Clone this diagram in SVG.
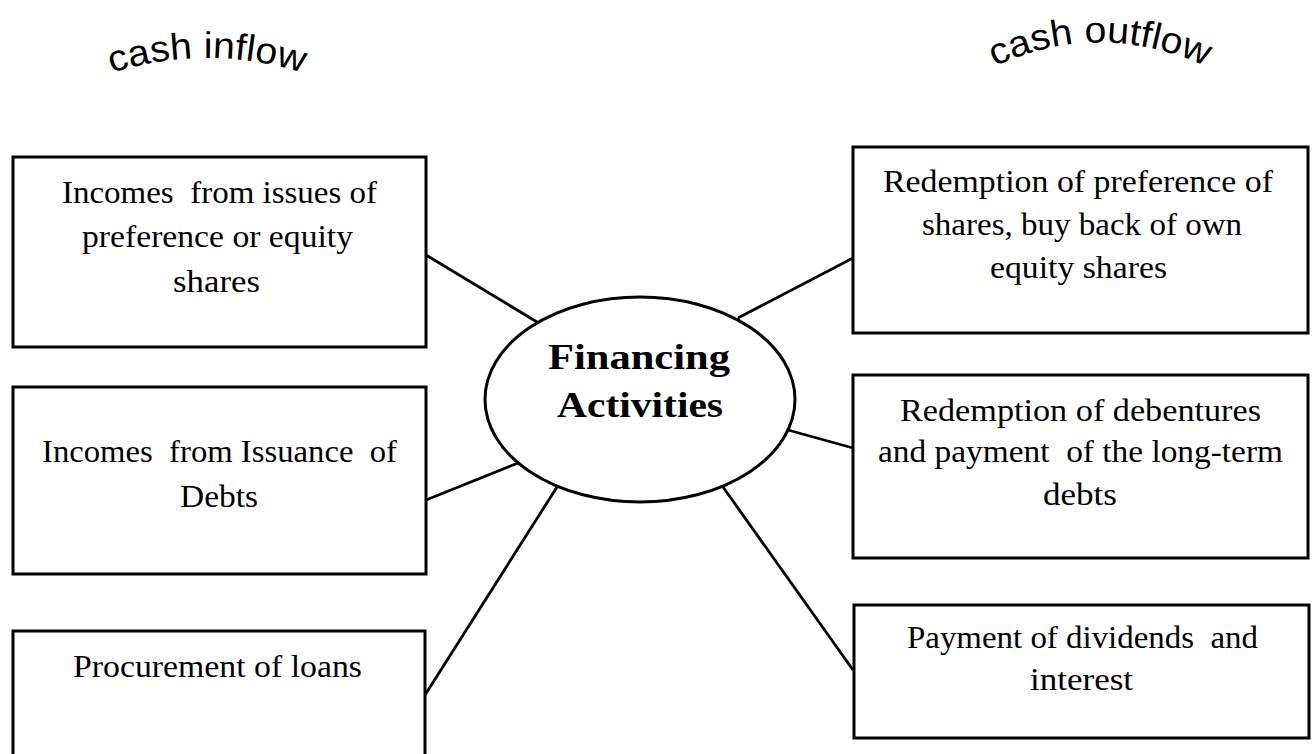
<svg xmlns="http://www.w3.org/2000/svg" width="1314" height="754" viewBox="0 0 1314 754">
<defs>
<style>
.box{fill:#fff;stroke:#000;stroke-width:3}
.conn line{stroke:#000;stroke-width:2.8}
.t{font-family:"Liberation Serif","Times New Roman",serif;font-size:32px;fill:#000;text-anchor:middle}
.b{font-family:"Liberation Serif","Times New Roman",serif;font-size:36px;font-weight:bold;fill:#000;text-anchor:middle}
.h{font-family:"Liberation Sans",Arial,sans-serif;font-size:37px;fill:#000;text-anchor:middle}
</style>
<path id="arcIn" d="M108,74 Q207,42 306,74"/>
<path id="arcOut" d="M993,67 Q1100,18 1207,67"/>
</defs>
<rect width="1314" height="754" fill="#fff"/>
<g id="headers">
<text class="h"><textPath href="#arcIn" startOffset="50%" textLength="194" lengthAdjust="spacingAndGlyphs">cash inflow</textPath></text>
<text class="h"><textPath href="#arcOut" startOffset="50%" textLength="218" lengthAdjust="spacingAndGlyphs">cash outflow</textPath></text>
</g>
<g id="connectors" class="conn">
<line x1="426" y1="255" x2="537" y2="322"/>
<line x1="853" y1="258" x2="738" y2="318"/>
<line x1="426" y1="500" x2="518" y2="463"/>
<line x1="853" y1="448" x2="788" y2="430"/>
<line x1="425" y1="695" x2="557" y2="487"/>
<line x1="853" y1="670" x2="723" y2="487"/>
</g>
<g id="center">
<ellipse cx="640" cy="399.5" rx="155" ry="102.5" fill="#fff" stroke="#000" stroke-width="3"/>
<text class="b" x="639" y="369" textLength="182" lengthAdjust="spacingAndGlyphs">Financing</text>
<text class="b" x="640" y="417" textLength="166" lengthAdjust="spacingAndGlyphs">Activities</text>
</g>
<g id="in1">
<rect class="box" x="13" y="157" width="413" height="190"/>
<text class="t" x="219.5" y="203" textLength="315" lengthAdjust="spacingAndGlyphs" xml:space="preserve">Incomes  from issues of</text>
<text class="t" x="217.5" y="247" textLength="271" lengthAdjust="spacingAndGlyphs">preference or equity</text>
<text class="t" x="216.5" y="292" textLength="87" lengthAdjust="spacingAndGlyphs">shares</text>
</g>
<g id="in2">
<rect class="box" x="13" y="387" width="413" height="187"/>
<text class="t" x="219.5" y="462" textLength="355" lengthAdjust="spacingAndGlyphs" xml:space="preserve">Incomes  from Issuance  of</text>
<text class="t" x="219" y="507" textLength="78" lengthAdjust="spacingAndGlyphs">Debts</text>
</g>
<g id="in3">
<rect class="box" x="13" y="631" width="412" height="140"/>
<text class="t" x="217.5" y="677" textLength="289" lengthAdjust="spacingAndGlyphs">Procurement of loans</text>
</g>
<g id="out1">
<rect class="box" x="853" y="147" width="455" height="186"/>
<text class="t" x="1078" y="192" textLength="390" lengthAdjust="spacingAndGlyphs">Redemption of preference of</text>
<text class="t" x="1082" y="235" textLength="320" lengthAdjust="spacingAndGlyphs">shares, buy back of own</text>
<text class="t" x="1078.5" y="278" textLength="177" lengthAdjust="spacingAndGlyphs">equity shares</text>
</g>
<g id="out2">
<rect class="box" x="853" y="375" width="455" height="183"/>
<text class="t" x="1080.5" y="421" textLength="361" lengthAdjust="spacingAndGlyphs">Redemption of debentures</text>
<text class="t" x="1080.5" y="462" textLength="405" lengthAdjust="spacingAndGlyphs" xml:space="preserve">and payment  of the long-term</text>
<text class="t" x="1080" y="505" textLength="74" lengthAdjust="spacingAndGlyphs">debts</text>
</g>
<g id="out3">
<rect class="box" x="854" y="605" width="455" height="133"/>
<text class="t" x="1082.5" y="648" textLength="351" lengthAdjust="spacingAndGlyphs" xml:space="preserve">Payment of dividends  and</text>
<text class="t" x="1081.5" y="690" textLength="103" lengthAdjust="spacingAndGlyphs">interest</text>
</g>
</svg>
